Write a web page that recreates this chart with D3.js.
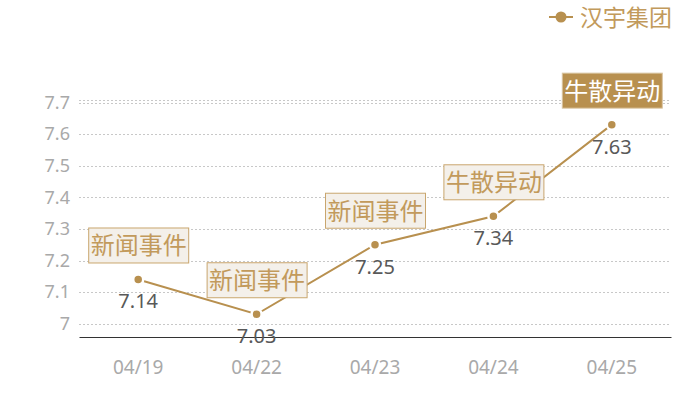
<!DOCTYPE html>
<html>
<head>
<meta charset="utf-8">
<script src="https://cdn.jsdelivr.net/npm/d3@7/dist/d3.min.js"></script>
<style>
  html, body { margin: 0; padding: 0; background: #fff; }
  svg { display: block; font-family: "Noto Sans", "Noto Sans CJK SC", sans-serif; }
</style>
</head>
<body>
<div id="chart"></div>
<script>
'use strict';

// ── Data ─────────────────────────────────────────────────────────────────────
const dates   = ['04/19', '04/22', '04/23', '04/24', '04/25'];
const values  = [7.14, 7.03, 7.25, 7.34, 7.63];
const events  = ['新闻事件', '新闻事件', '新闻事件', '牛散异动', '牛散异动'];
const yTicks  = [7, 7.1, 7.2, 7.3, 7.4, 7.5, 7.6, 7.7];
const seriesName = '汉宇集团';

const W = 700, H = 400;
const PAD = { top: 100, right: 29, bottom: 63, left: 79 };
const GOLD = '#b8904f';

const svg = d3.select('#chart').append('svg')
  .attr('width', W).attr('height', H);

const x = d3.scaleBand()
  .domain(dates)
  .range([PAD.left, W - PAD.right]);

const y = d3.scaleLinear()
  .domain([6.958, 7.708])
  .range([H - PAD.bottom, PAD.top]);

const cx = d => x(d) + x.bandwidth() / 2;

// ── Grid ─────────────────────────────────────────────────────────────────────
const grid = svg.append('g').attr('class', 'grid');
grid.selectAll('line')
  .data(yTicks.concat([y.domain()[1]]))
  .enter().append('line')
  .attr('x1', PAD.left).attr('x2', W - PAD.right)
  .attr('y1', d => Math.round(y(d)) + 0.5).attr('y2', d => Math.round(y(d)) + 0.5)
  .attr('stroke', '#c8c8c8')
  .attr('stroke-dasharray', '2,2');

// Y tick labels
const yAxis = d3.axisLeft(y).tickValues(yTicks).tickSize(0).tickPadding(9)
  .tickFormat(d => d3.format('~g')(d));
svg.append('g')
  .attr('transform', `translate(${PAD.left},0)`)
  .call(yAxis)
  .call(g => g.select('.domain').remove())
  .call(g => g.selectAll('text')
    .attr('fill', '#a9a9a9')
    .style('font-size', '18px')
    .style('font-family', '"Noto Sans", sans-serif'));

// X axis
const xAxis = d3.axisBottom(x).tickSize(0).tickPadding(24);
svg.append('g')
  .attr('transform', `translate(0,${H - PAD.bottom})`)
  .call(xAxis)
  .call(g => g.select('.domain').attr('stroke', '#333').attr('stroke-width', 1.2))
  .call(g => g.selectAll('text')
    .attr('fill', '#a9a9a9')
    .style('font-size', '19px')
    .style('font-family', '"Noto Sans", sans-serif'));

// ── Line ─────────────────────────────────────────────────────────────────────
const pts = dates.map((d, i) => ({ date: d, value: values[i], event: events[i], i }));

svg.append('path')
  .datum(pts)
  .attr('fill', 'none')
  .attr('stroke', GOLD)
  .attr('stroke-width', 2)
  .attr('d', d3.line().x(d => cx(d.date)).y(d => y(d.value)));

svg.selectAll('.dot')
  .data(pts)
  .enter().append('circle')
  .attr('class', 'dot')
  .attr('cx', d => cx(d.date))
  .attr('cy', d => y(d.value))
  .attr('r', 5)
  .attr('fill', GOLD)
  .attr('stroke', '#fff')
  .attr('stroke-width', 2.5);

// Value labels
svg.selectAll('.val')
  .data(pts)
  .enter().append('text')
  .attr('class', 'val')
  .attr('x', d => cx(d.date))
  .attr('y', d => y(d.value) + 29)
  .attr('text-anchor', 'middle')
  .attr('fill', '#595959')
  .style('font-size', '20px')
  .text(d => d3.format('~g')(d.value));

// ── Event boxes ──────────────────────────────────────────────────────────────
const BOX_W = 100, BOX_H = 35, GAP = 17;
const boxes = svg.selectAll('.evt')
  .data(pts)
  .enter().append('g')
  .attr('class', 'evt')
  .attr('transform', d => `translate(${cx(d.date) - BOX_W / 2},${y(d.value) - GAP - BOX_H})`);

const last = pts.length - 1;
boxes.append('rect')
  .attr('x', 0.5).attr('y', 0.5)
  .attr('width', BOX_W).attr('height', BOX_H)
  .attr('fill', d => d.i === last ? GOLD : '#f4f0ea')
  .attr('stroke', d => d.i === last ? '#d9c4a0' : '#c9a66e')
  .attr('stroke-width', 1);

boxes.append('text')
  .attr('x', BOX_W / 2 + 0.5)
  .attr('y', BOX_H / 2 + 9.5)
  .attr('text-anchor', 'middle')
  .attr('fill', d => d.i === last ? '#fff' : '#c29a5c')
  .style('font-family', '"Noto Sans CJK SC", sans-serif')
  .style('font-size', '24px')
  .text(d => d.event);

// ── Legend ───────────────────────────────────────────────────────────────────
const lg = svg.append('g').attr('transform', 'translate(549,17)');
lg.append('line').attr('x1', 0).attr('x2', 24).attr('y1', 0).attr('y2', 0)
  .attr('stroke', GOLD).attr('stroke-width', 2);
lg.append('circle').attr('cx', 12).attr('cy', 0).attr('r', 5.5).attr('fill', GOLD);
lg.append('text')
  .attr('x', 31).attr('y', 9)
  .attr('fill', '#c29a5c')
  .style('font-family', '"Noto Sans CJK SC", sans-serif')
  .style('font-size', '23px')
  .text(seriesName);
</script>
</body>
</html>
